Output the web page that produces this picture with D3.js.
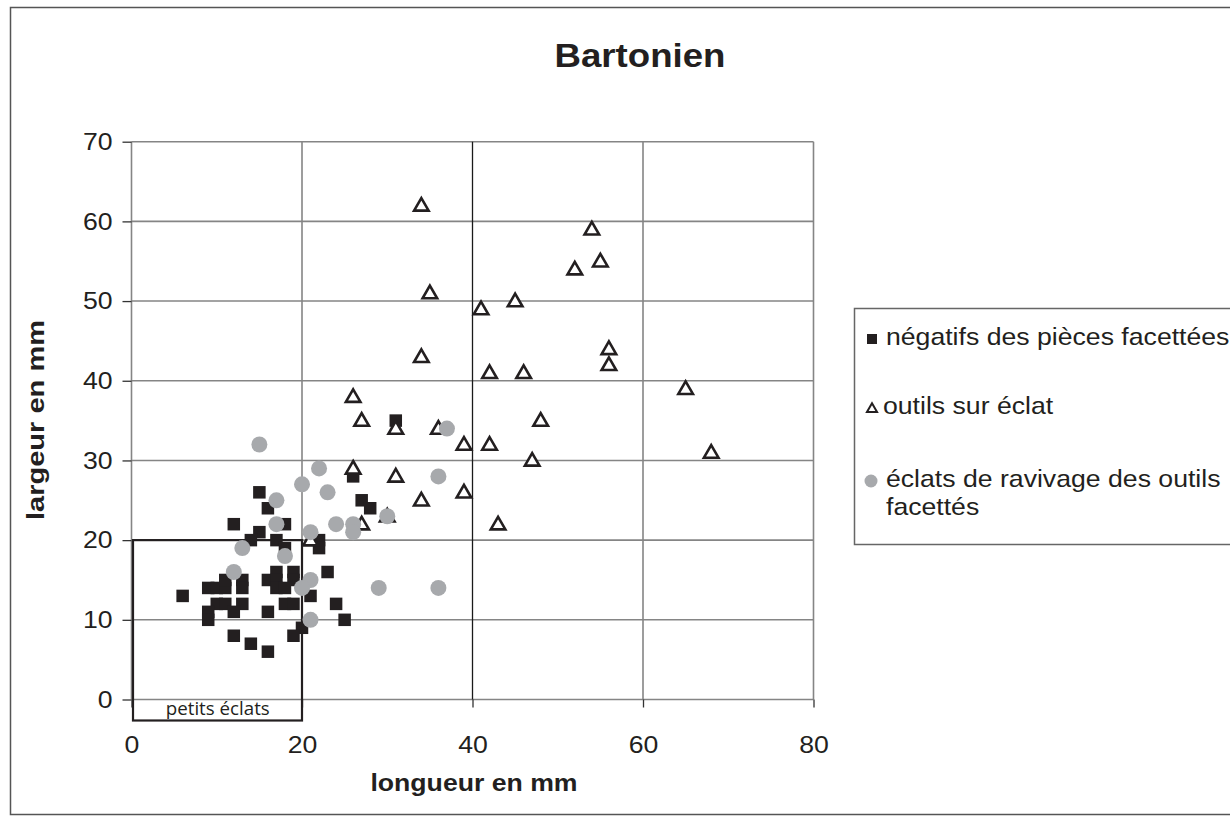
<!DOCTYPE html>
<html>
<head>
<meta charset="utf-8">
<script src="https://cdn.jsdelivr.net/npm/d3@7"></script>
<style>
  body { margin: 0; background: #fff; }
  .wide { transform-box: fill-box; transform: scaleX(1.11); }
</style>
</head>
<body>
<div id="chart"></div>
<script>
// négatifs des pièces facettées (longueur, largeur)
const negatifs = [
  [6,13],[9,14],[10,14],[11,14],[11,15],[13,15],[13,14],[10,12],[11,12],[13,12],
  [12,11],[9,11],[9,10],[12,8],[14,7],[16,6],[16,15],[17,16],[19,16],[17,15],
  [19,15],[17,14],[18,14],[18,12],[19,12],[21,13],[16,11],[20,9],[19,8],[23,16],
  [24,12],[25,10],[15,26],[16,24],[12,22],[18,22],[15,21],[14,20],[17,20],[18,19],
  [22,20],[22,19],[26,28],[27,25],[28,24],[31,35]
];
// outils sur éclat
const outils = [
  [34,62],[54,59],[55,55],[52,54],[35,51],[45,50],[41,49],[34,43],[56,44],[56,42],
  [42,41],[46,41],[65,39],[26,38],[27,35],[31,34],[36,34],[48,35],[39,32],[42,32],
  [68,31],[47,30],[26,29],[31,28],[34,25],[39,26],[43,22],[27,22],[30,23],[21,20]
];
// éclats de ravivage des outils facettés
const ravivage = [
  [15,32],[22,29],[20,27],[23,26],[17,25],[17,22],[24,22],[26,22],[26,21],[21,21],
  [13,19],[18,18],[12,16],[21,15],[20,14],[21,10],[29,14],[37,34],[36,28],[30,23],[36,14]
];
const xTicks = [0, 20, 40, 60, 80];
const yTicks = [0, 10, 20, 30, 40, 50, 60, 70];
const seriesNames = ["négatifs des pièces facettées", "outils sur éclat", "éclats de ravivage des outils", "facettés"];

const margin = {top: 141.7, right: 416.5, bottom: 122.5, left: 131.5};
const width = 1230, height = 822;
const visWidth = width - margin.left - margin.right;
const visHeight = height - margin.top - margin.bottom;
const font = "'Liberation Sans', Arial, sans-serif";
const black = "#231f20", gray = "#a7a9ac", gridGray = "#858585";

const svg = d3.select("#chart").append("svg")
    .attr("width", width)
    .attr("height", height);

// outer frame
svg.append("rect")
  .attr("x", 10.5).attr("y", 7.5)
  .attr("width", 1240).attr("height", 807)
  .attr("fill", "none")
  .attr("stroke", "#555")
  .attr("stroke-width", 1.5);

// title
svg.append("text")
  .attr("class", "wide")
  .style("transform-origin", "center")
  .attr("x", 640).attr("y", 58)
  .attr("text-anchor", "middle")
  .attr("dominant-baseline", "middle")
  .attr("font-family", font)
  .attr("font-weight", "bold")
  .attr("font-size", "33px")
  .attr("fill", black)
  .text("Bartonien");

const g = svg.append("g")
  .attr("transform", `translate(${margin.left}, ${margin.top})`);

const x = d3.scaleLinear().domain([0, 80]).range([0, visWidth]);
const y = d3.scaleLinear().domain([0, 70]).range([visHeight, 0]);

// grid
g.append("g")
  .selectAll("line")
  .data(yTicks)
  .join("line")
    .attr("x1", 0).attr("x2", visWidth)
    .attr("y1", d => y(d)).attr("y2", d => y(d))
    .attr("stroke", gridGray)
    .attr("stroke-width", 1.6);

g.append("g")
  .selectAll("line")
  .data(xTicks)
  .join("line")
    .attr("x1", d => x(d)).attr("x2", d => x(d))
    .attr("y1", 0).attr("y2", visHeight)
    .attr("stroke", d => d === 40 ? "#1a1a1a" : gridGray)
    .attr("stroke-width", d => d === 40 ? 1.3 : 1.6);

// axes (ticks + labels)
const xAxis = d3.axisBottom(x).tickValues(xTicks).tickSize(8).tickPadding(28);
const yAxis = d3.axisLeft(y).tickValues(yTicks).tickSize(9).tickPadding(10);

g.append("g")
  .attr("transform", `translate(0, ${visHeight})`)
  .call(xAxis)
  .call(a => a.select(".domain").remove())
  .call(a => a.selectAll("line").attr("stroke", "#333").attr("stroke-width", 1.3))
  .call(a => a.selectAll("text")
    .attr("class", "wide").style("transform-origin", "center")
    .attr("font-family", font).attr("font-size", "24px").attr("fill", black)
    .attr("dy", "0.71em"));

g.append("g")
  .call(yAxis)
  .call(a => a.select(".domain").remove())
  .call(a => a.selectAll("line").attr("stroke", "#333").attr("stroke-width", 1.3))
  .call(a => a.selectAll("text")
    .attr("class", "wide").style("transform-origin", "right center")
    .attr("font-family", font).attr("font-size", "24px").attr("fill", black));

// axis titles
svg.append("text")
  .attr("class", "wide").style("transform-origin", "center")
  .attr("x", 474).attr("y", 785)
  .attr("text-anchor", "middle")
  .attr("dominant-baseline", "middle")
  .attr("font-family", font).attr("font-weight", "bold")
  .attr("font-size", "24px").attr("fill", black)
  .text("longueur en mm");

svg.append("text")
  .attr("transform", "translate(38, 420) rotate(-90)")
  .attr("text-anchor", "middle")
  .attr("dominant-baseline", "middle")
  .attr("font-family", font).attr("font-weight", "bold")
  .attr("font-size", "24px").attr("fill", black)
  .attr("textLength", 200)
  .attr("lengthAdjust", "spacingAndGlyphs")
  .text("largeur en mm");

// "petits éclats" box
g.append("rect")
  .attr("x", x(0) + 1.5).attr("y", y(20))
  .attr("width", x(20) - x(0) - 1.5)
  .attr("height", visHeight - y(20) + 21)
  .attr("fill", "none")
  .attr("stroke", black)
  .attr("stroke-width", 2.2);

g.append("text")
  .attr("x", (x(0) + x(20)) / 2 + 1).attr("y", visHeight + 16)
  .attr("text-anchor", "middle")
  .attr("font-family", "'Liberation Sans Narrow', 'Open Sans', sans-serif")
  .attr("font-size", "18px")
  .attr("textLength", 104)
  .attr("lengthAdjust", "spacingAndGlyphs")
  .attr("fill", black)
  .text("petits éclats");

// points
const sq = 12.5;
g.append("g")
  .selectAll("rect")
  .data(negatifs)
  .join("rect")
    .attr("x", d => x(d[0]) - sq / 2)
    .attr("y", d => y(d[1]) - sq / 2)
    .attr("width", sq).attr("height", sq)
    .attr("fill", black);

const tri = d3.symbol().type(d3.symbolTriangle).size(92);
g.append("g")
  .selectAll("path")
  .data(outils)
  .join("path")
    .attr("d", tri)
    .attr("transform", d => `translate(${x(d[0])}, ${y(d[1]) + 1})`)
    .attr("fill", "#fff")
    .attr("stroke", black)
    .attr("stroke-width", 2.6);

g.append("g")
  .selectAll("circle")
  .data(ravivage)
  .join("circle")
    .attr("cx", d => x(d[0]))
    .attr("cy", d => y(d[1]))
    .attr("r", 8)
    .attr("fill", gray);

// legend
const legend = svg.append("g");
legend.append("rect")
  .attr("x", 854.5).attr("y", 308.5)
  .attr("width", 400).attr("height", 236)
  .attr("fill", "#fff")
  .attr("stroke", "#666")
  .attr("stroke-width", 1.5);

const legY = [339, 408, 481];
const legText = (yy, txt) => legend.append("text")
  .attr("class", "wide").style("transform-origin", "left center")
  .attr("x", 886).attr("y", yy)
  .attr("dominant-baseline", "middle")
  .attr("font-family", font).attr("font-size", "24px")
  .attr("fill", black)
  .text(txt);

legend.append("rect")
  .attr("x", 867).attr("y", legY[0] - 5)
  .attr("width", 10).attr("height", 10)
  .attr("fill", black);
legText(legY[0], seriesNames[0]);

legend.append("path")
  .attr("d", d3.symbol().type(d3.symbolTriangle).size(44))
  .attr("transform", `translate(872, ${legY[1] + 1})`)
  .attr("fill", "#fff")
  .attr("stroke", black)
  .attr("stroke-width", 2);
legText(legY[1], seriesNames[1]).attr("x", 883);

legend.append("circle")
  .attr("cx", 871).attr("cy", legY[2])
  .attr("r", 6.5)
  .attr("fill", gray);
legText(legY[2], seriesNames[2]);
legText(legY[2] + 28, seriesNames[3]);
</script>
</body>
</html>
